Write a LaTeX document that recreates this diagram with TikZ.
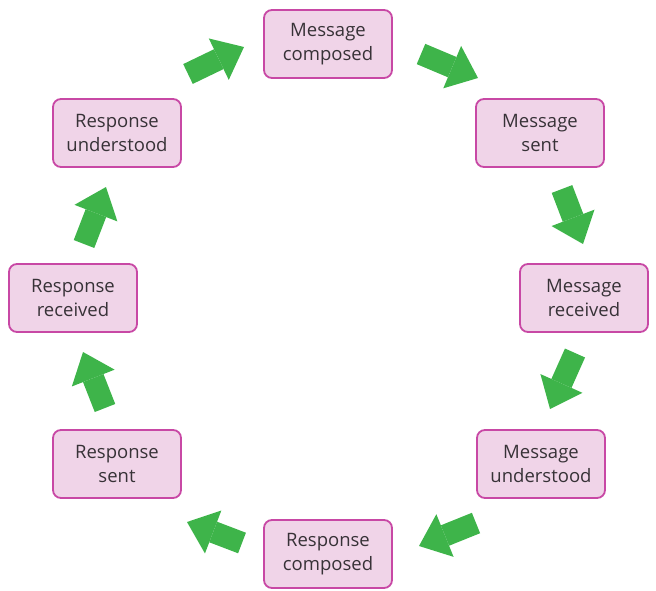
\documentclass[tikz,border=0pt]{standalone}
\usepackage{fontspec}
\setmainfont{Open Sans}
\usetikzlibrary{arrows.meta}
\definecolor{boxfill}{RGB}{240,212,232}
\definecolor{boxline}{RGB}{200,72,165}
\definecolor{arrowgreen}{RGB}{62,180,74}
\definecolor{txt}{RGB}{55,50,55}
\tikzset{
  stage/.style={draw=boxline, fill=boxfill, line width=1.8pt, rounded corners=8pt,
    minimum width=128pt, minimum height=68pt, align=center, text=txt,
    font=\fontsize{18.5pt}{23.5pt}\selectfont},
  flow/.style={draw=arrowgreen, line width=22pt,
    -{Triangle[length=28pt, width=46pt, line width=0pt, fill=arrowgreen]}}
}
\begin{document}
\begin{tikzpicture}[x=1pt, y=-1pt]
\useasboundingbox (0,0) rectangle (656,591);
\node[stage] (mc) at (328,44) {Message\\composed};
\node[stage] (ms) at (540,133) {Message\\sent};
\node[stage] (mr) at (584,298) {Message\\received};
\node[stage] (mu) at (541,464) {Message\\understood};
\node[stage] (rc) at (328,554) {Response\\composed};
\node[stage] (rs) at (117,464) {Response\\sent};
\node[stage] (rr) at (73,298) {Response\\received};
\node[stage] (ru) at (117,133) {Response\\understood};

\coordinate (a1s) at (188,74);  \coordinate (a1e) at (244,47);
\coordinate (a2s) at (421,54);  \coordinate (a2e) at (478,78);
\coordinate (a3s) at (562,189); \coordinate (a3e) at (583,244);
\coordinate (a4s) at (575,353); \coordinate (a4e) at (550,409);
\coordinate (a5s) at (476,523); \coordinate (a5e) at (419,546);
\coordinate (a6s) at (242,543); \coordinate (a6e) at (187,522);
\coordinate (a7s) at (105,408); \coordinate (a7e) at (83,352);
\coordinate (a8s) at (84,244);  \coordinate (a8e) at (106,187);

\draw[flow] (a1s) -- (a1e);
\draw[flow] (a2s) -- (a2e);
\draw[flow] (a3s) -- (a3e);
\draw[flow] (a4s) -- (a4e);
\draw[flow] (a5s) -- (a5e);
\draw[flow] (a6s) -- (a6e);
\draw[flow] (a7s) -- (a7e);
\draw[flow] (a8s) -- (a8e);
\end{tikzpicture}
\end{document}
